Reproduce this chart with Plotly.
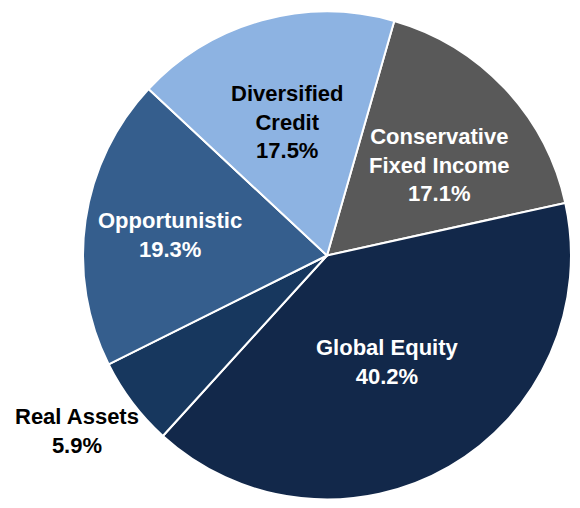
import math
import plotly.graph_objects as go

labels = ["Conservative<br>Fixed Income", "Global Equity", "Real Assets", "Opportunistic", "Diversified<br>Credit"]
values = [17.1, 40.2, 5.9, 19.3, 17.5]
colors = ["#595959", "#12284A", "#17375E", "#355E8D", "#8DB3E2"]
text_colors = ["white", "white", "black", "white", "black"]
label_radius = [0.59, 0.50, 1.25, 0.65, 0.57]   # label distance from centre, as a share of the radius
label_turn = [4.5, 0.5, 2.0, -1.0, -1.0]          # small angular nudge of each label, degrees

W, H = 580, 508
CX, CY, R = 327, 255.5, 244   # pie centre and radius in pixels (from top-left)
ROTATION = 16

fig = go.Figure(go.Pie(
    labels=labels,
    values=values,
    sort=False,
    direction="clockwise",
    rotation=ROTATION,
    marker=dict(colors=colors, line=dict(color="white", width=2)),
    textinfo="none",
    hoverinfo="label+value",
    domain=dict(x=[(CX - R) / W, (CX + R) / W], y=[(H - CY - R) / H, (H - CY + R) / H]),
    showlegend=False,
))

total = sum(values)
cum = 0.0
for lab, val, col, rf, turn in zip(labels, values, text_colors, label_radius, label_turn):
    mid = math.radians(ROTATION + (cum + val / 2) / total * 360 + turn)
    cum += val
    px = CX + rf * R * math.sin(mid)
    py = CY - rf * R * math.cos(mid)
    fig.add_annotation(
        x=px / W, y=1 - py / H, xref="paper", yref="paper",
        text=f"<b>{lab}<br>{val:.1f}%</b>", showarrow=False,
        xanchor="center", yanchor="middle",
        font=dict(family="Liberation Sans Narrow, Arial Narrow, Liberation Sans, Arial", size=22, color=col),
    )

fig.update_layout(
    width=W, height=H,
    margin=dict(l=0, r=0, t=0, b=0),
    paper_bgcolor="white", plot_bgcolor="white",
)
fig.write_html("out.html", config={"displayModeBar": False},
               post_script="document.body.style.margin='0';document.body.style.overflow='hidden';")
